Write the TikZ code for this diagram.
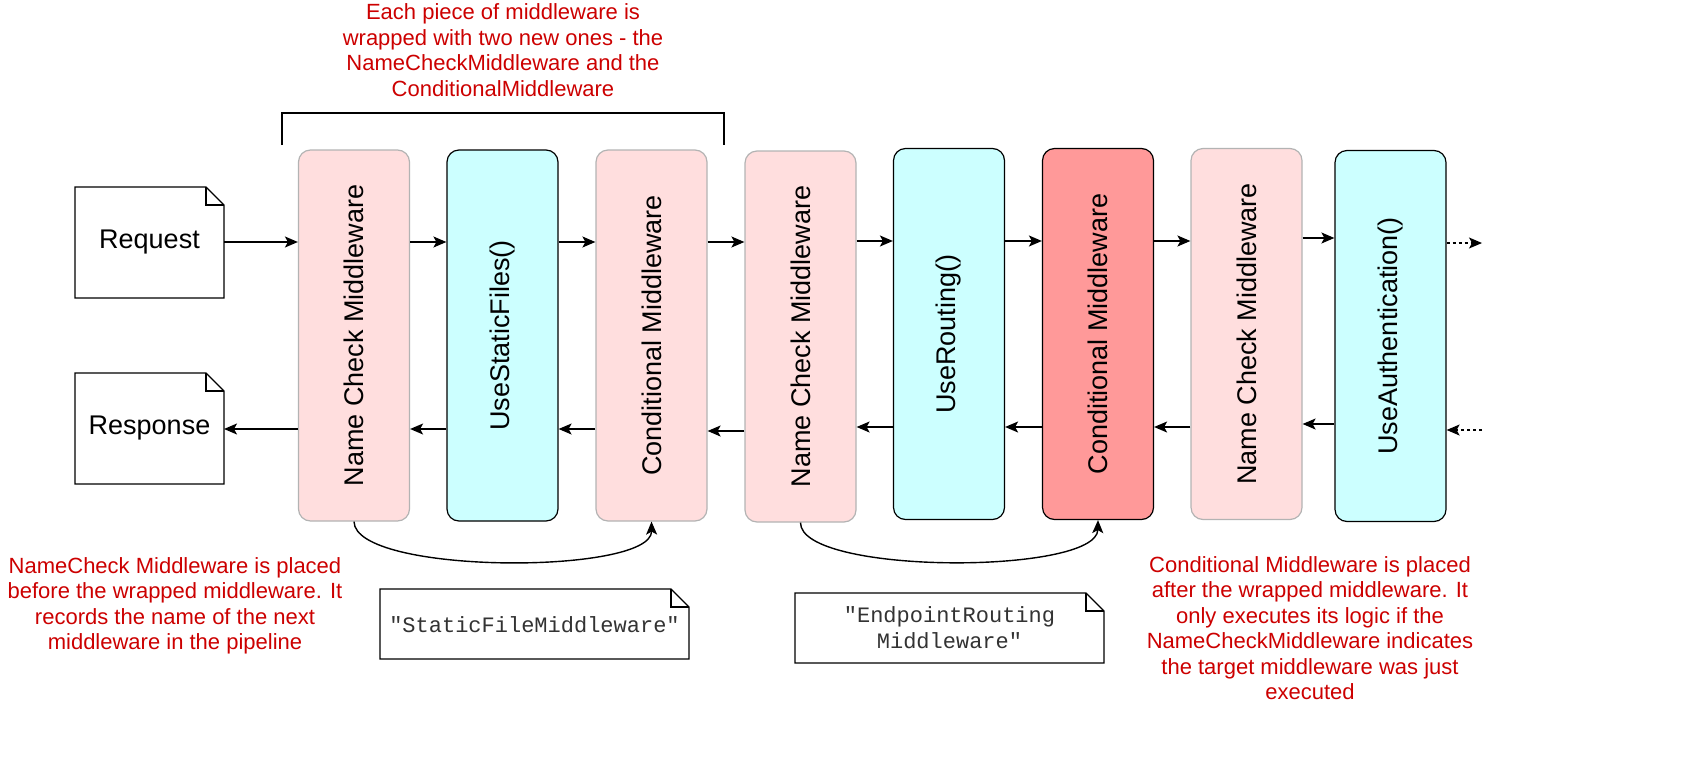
\documentclass[tikz,border=0pt]{standalone}
\usepackage{fontspec}
\setmainfont{Liberation Sans}
\setmonofont{Liberation Mono}
\usetikzlibrary{arrows.meta}
\definecolor{pinkf}{HTML}{FFDEDE}
\definecolor{pinkd}{HTML}{B3B3B3}
\definecolor{cyanf}{HTML}{CCFFFF}
\definecolor{redf}{HTML}{FF9999}
\definecolor{redt}{HTML}{CC0000}
\begin{document}
\begin{tikzpicture}[x=1pt,y=-1pt,
  mw/.style={rounded corners=12pt,line width=1.2pt,minimum width=111pt,minimum height=371pt,inner sep=0pt,font=\fontsize{27}{32}\selectfont},
  pinkbox/.style={mw,fill=pinkf,draw=pinkd},
  cyanbox/.style={mw,fill=cyanf,draw=black},
  redbox/.style={mw,fill=redf,draw=black},
  arr/.style={-{Stealth[length=13pt,width=11pt,inset=3pt]},line width=1.4pt},
  darr/.style={arr,dashed},
  note/.style={text=redt,align=center,font=\fontsize{22}{25.5}\selectfont}]
\useasboundingbox (0,0) rectangle (1686,758);
\newcommand{\docshape}[5]{% x1 y1 x2 y2 fold
  \draw[line width=1.1pt,fill=white] (#1,#2) -- (#3-#5,#2) -- (#3,#2+#5) -- (#3,#4) -- (#1,#4) -- cycle;
  \draw[line width=1.1pt] (#3-#5,#2) -- (#3-#5,#2+#5) -- (#3,#2+#5);}
\docshape{75}{187}{224}{298}{18}
\docshape{75}{373}{224}{484}{18}
\docshape{380}{589}{689}{659}{18}
\docshape{795}{593}{1104}{663}{18}
\node[font=\fontsize{27}{32}\selectfont] (req) at (149.5,242.5) {Request};
\coordinate (reqE) at (224,242);
\node[font=\fontsize{27}{32}\selectfont] (resp) at (149.5,428.5) {Response};
\coordinate (respE) at (224,429);
\node[font=\ttfamily\fontsize{22}{26}\selectfont,text=black!80] (n1) at (534.5,625) {"StaticFileMiddleware"};
\node[font=\ttfamily\fontsize{22}{26}\selectfont,text=black!80,align=center] (n2) at (949.5,628) {"EndpointRouting\\Middleware"};
% boxes
\node[pinkbox] (b1) at (354,335.5) {\rotatebox{90}{Name Check Middleware}};
\node[cyanbox] (b2) at (502.5,335.5) {\rotatebox{90}{UseStaticFiles()}};
\node[pinkbox] (b3) at (651.5,335.5) {\rotatebox{90}{Conditional Middleware}};
\node[pinkbox] (b4) at (800.5,336.5) {\rotatebox{90}{Name Check Middleware}};
\node[cyanbox] (b5) at (949,334) {\rotatebox{90}{UseRouting()}};
\node[redbox] (b6) at (1098,334) {\rotatebox{90}{Conditional Middleware}};
\node[pinkbox] (b7) at (1246.5,334) {\rotatebox{90}{Name Check Middleware}};
\node[cyanbox] (b8) at (1390.5,336) {\rotatebox{90}{UseAuthentication()}};
% forward arrows
\draw[arr] (reqE) -- (b1.west|-reqE);
\foreach \a/\b/\y in {b1/b2/242,b2/b3/242,b3/b4/242,b4/b5/241,b5/b6/241,b6/b7/241,b7/b8/238}{
  \draw[arr] (\a.east|-0,\y) -- (\b.west|-0,\y);}
\coordinate (fr) at (1482,243);
\draw[darr] (b8.east|-fr) -- (fr);
% backward arrows
\draw[arr] (b1.west|-respE) -- (respE);
\foreach \a/\b/\y in {b2/b1/429,b3/b2/429,b4/b3/431,b5/b4/427,b6/b5/427,b7/b6/427,b8/b7/424}{
  \draw[arr] (\a.west|-0,\y) -- (\b.east|-0,\y);}
\coordinate (br) at (1482,430);
\draw[darr] (br) -- (b8.east|-br);
% bracket
\coordinate (brL) at (282,145); \coordinate (brR) at (724,145);
\draw[line width=1.1pt] (brL) -- (282,113) -- (724,113) -- (brR);
% curves
\draw[arr] (b1.south) .. controls (355,575) and (652,575) .. (b3.south);
\draw[arr] (b4.south) .. controls (800,575) and (1097,575) .. (b6.south);
% notes
\node[note] (t1) at (503,50) {Each piece of middleware is\\wrapped with two new ones - the\\NameCheckMiddleware and the\\ConditionalMiddleware};
\node[note] (t2) at (175,606) {NameCheck Middleware is placed\\before the wrapped middleware. It\\records the name of the next\\middleware in the pipeline};
\node[note] (t3) at (1310,628) {Conditional Middleware is placed\\after the wrapped middleware. It\\only executes its logic if the\\NameCheckMiddleware indicates\\the target middleware was just\\executed};
\end{tikzpicture}
\end{document}
